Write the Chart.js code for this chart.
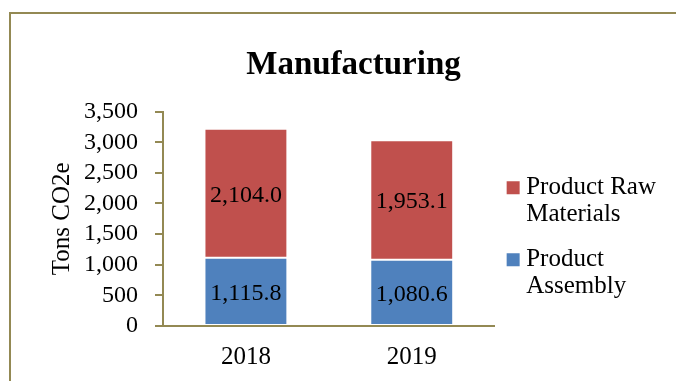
<!DOCTYPE html>
<html>
<head>
<meta charset="utf-8">
<title>Manufacturing</title>
<script src="https://cdn.jsdelivr.net/npm/chart.js@4.4.1/dist/chart.umd.min.js"></script>
<style>
    html, body { margin: 0; padding: 0; background: #fff; overflow: hidden; }
    .chart-container { position: relative; width: 676px; height: 381px; }
    .chart-frame {
        position: absolute; left: 9px; top: 12px; width: 900px; height: 600px;
        border: 2px solid #938953; box-sizing: border-box;
    }
    canvas { position: absolute; left: 0; top: 0; }
</style>
</head>
<body>
<div class="chart-container">
    <div class="chart-frame"></div>
    <canvas id="manufacturingChart"></canvas>
</div>
<script>
const categories = ['2018', '2019'];
const assemblyValues = [1115.8, 1080.6];
const rawMaterialValues = [2104.0, 1953.1];
const yTickValues = [0, 500, 1000, 1500, 2000, 2500, 3000, 3500];
const assemblyLegend = ['Product', 'Assembly'];
const rawMaterialLegend = ['Product Raw', 'Materials'];

const AXIS_COLOR = '#938953';
const SERIF = "'Liberation Serif', 'Times New Roman', serif";

Chart.defaults.font.family = SERIF;
Chart.defaults.color = '#000';

const formatValue = v => v.toLocaleString('en-US', { minimumFractionDigits: 1, maximumFractionDigits: 1 });

// value text in the middle of every bar segment
const barValueLabels = {
    id: 'barValueLabels',
    afterDatasetsDraw(chart) {
        const { ctx } = chart;
        ctx.save();
        ctx.font = '24px ' + SERIF;
        ctx.fillStyle = '#000';
        ctx.textAlign = 'center';
        ctx.textBaseline = 'middle';
        chart.data.datasets.forEach((ds, i) => {
            chart.getDatasetMeta(i).data.forEach((bar, j) => {
                ctx.fillText(formatValue(ds.data[j]), bar.x, (bar.y + bar.base) / 2 + 2);
            });
        });
        ctx.restore();
    }
};

const ctx = document.getElementById('manufacturingChart').getContext('2d');
new Chart(ctx, {
    type: 'bar',
    data: {
        labels: categories,
        datasets: [{
            label: assemblyLegend.join(' '),
            legendLines: assemblyLegend,
            data: assemblyValues,
            backgroundColor: '#4F81BD',
            borderColor: 'rgba(255, 255, 255, 0.55)',
            borderWidth: 1,
            borderSkipped: false
        }, {
            label: rawMaterialLegend.join(' '),
            legendLines: rawMaterialLegend,
            data: rawMaterialValues,
            backgroundColor: '#C0504D',
            borderColor: 'rgba(255, 255, 255, 0.55)',
            borderWidth: 1,
            borderSkipped: false
        }]
    },
    options: {
        responsive: true,
        maintainAspectRatio: false,
        animation: false,
        layout: { padding: { left: 41, right: 10, top: 0, bottom: 0 } },
        datasets: { bar: { categoryPercentage: 1, barPercentage: 0.5 } },
        scales: {
            x: {
                stacked: true,
                grid: { display: false, drawTicks: false },
                border: { display: true, color: AXIS_COLOR, width: 2 },
                ticks: { padding: 16, font: { size: 25 }, color: '#000' },
                afterFit: scale => { scale.height = 55; }
            },
            y: {
                stacked: true,
                min: 0,
                max: 3500,
                afterBuildTicks: axis => { axis.ticks = yTickValues.map(v => ({ value: v })); },
                grid: { drawOnChartArea: false, drawTicks: true, tickLength: 8, color: AXIS_COLOR, lineWidth: 2 },
                border: { display: true, color: AXIS_COLOR, width: 2 },
                ticks: { autoSkip: false, padding: 17, font: { size: 24 }, color: '#000' },
                title: { display: true, text: 'Tons CO2e', font: { size: 25, lineHeight: 1.68 }, color: '#000', padding: 0 },
                afterFit: scale => { scale.width = 122; }
            }
        },
        plugins: {
            title: {
                display: true,
                text: 'Manufacturing',
                color: '#000',
                font: { size: 33, weight: 'bold' },
                padding: { top: 46, bottom: 26 }
            },
            legend: {
                position: 'right',
                fullSize: false,
                reverse: true,
                maxWidth: 300,
                title: { display: true, text: '', padding: 0, font: { size: 25, lineHeight: 1.56 } },
                labels: {
                    font: { size: 25, lineHeight: 1.08 },
                    color: '#000',
                    padding: 18,
                    usePointStyle: true,
                    pointStyle: 'rect',
                    boxWidth: 1,
                    boxHeight: 13,
                    generateLabels: chart => {
                        const items = Chart.defaults.plugins.legend.labels.generateLabels(chart);
                        return items.map(item => {
                            item.text = chart.data.datasets[item.datasetIndex].legendLines;
                            item.lineWidth = 0;
                            return item;
                        });
                    }
                }
            },
            tooltip: { enabled: false }
        }
    },
    plugins: [barValueLabels]
});
</script>
</body>
</html>
